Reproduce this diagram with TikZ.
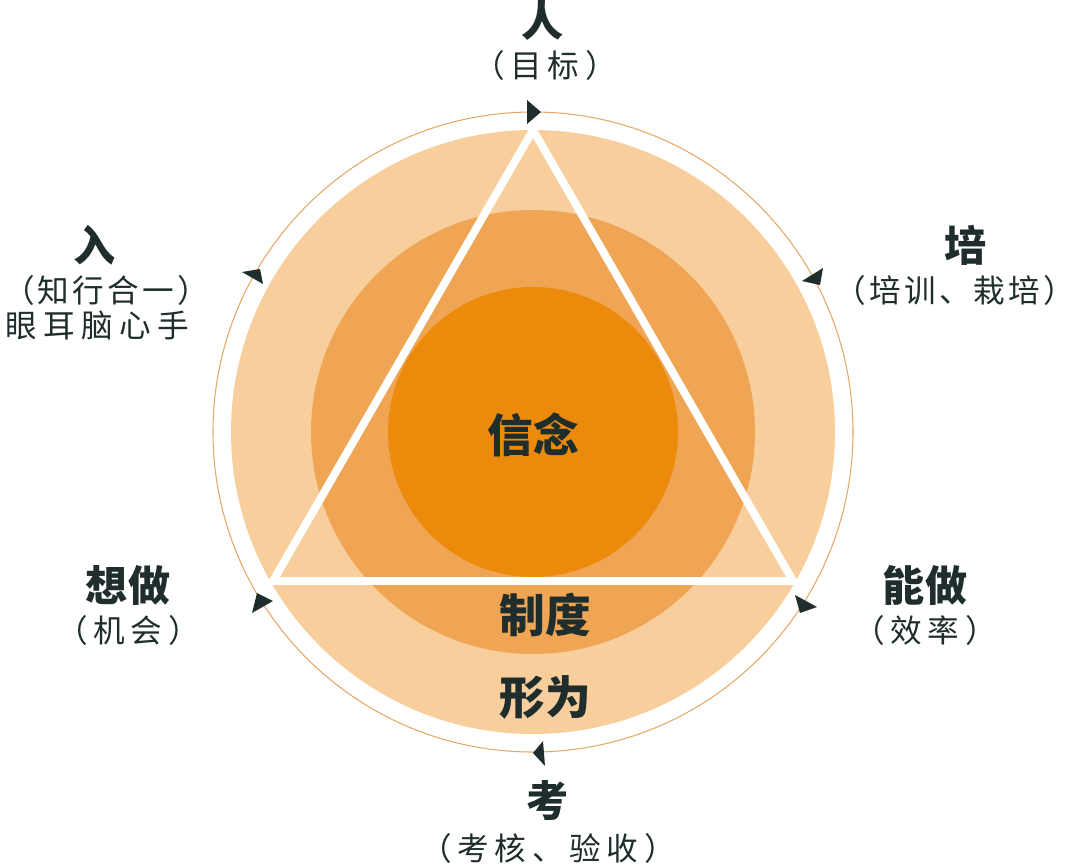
\documentclass[tikz,border=0pt]{standalone}
\usepackage{fontspec}
\newfontfamily\cjk{Noto Sans CJK SC}
\newfontfamily\cjkwide{Noto Sans CJK SC}[LetterSpace=18]
\newfontfamily\cjkmid{Noto Sans CJK SC}[LetterSpace=10]
\usetikzlibrary{calc}
\definecolor{peach}{HTML}{F7CE9C}
\definecolor{amber}{HTML}{F0A555}
\definecolor{core}{HTML}{EC8A0C}
\definecolor{ring}{HTML}{E6A866}
\definecolor{ink}{HTML}{1F2E2D}
\tikzset{
  head/.style={text=ink, font=\cjk\bfseries\fontsize{24}{26}\selectfont, inner sep=0pt},
  big/.style={text=ink, font=\cjk\bfseries\fontsize{26}{28}\selectfont, inner sep=0pt},
  sub/.style={text=ink, font=\cjkwide\fontsize{18}{20}\selectfont, inner sep=0pt},
  subedge/.style={sub, font=\cjkmid\fontsize{18}{20}\selectfont},
  tick/.style={fill=ink}
}

\begin{document}
\begin{tikzpicture}[x=0.02cm, y=-0.02cm]
    \useasboundingbox (0,0) rectangle (1080,866);
    \coordinate (O) at (533,432);
    \draw[ring, line width=0.6pt] (O) circle (320);
    \fill[peach] (O) circle (302);
    \fill[amber] (O) circle (222);
    \fill[core] (O) circle (145);

    \coordinate (A) at (533,130); \coordinate (B) at (273,581); \coordinate (C) at (793,581);
    \draw[white, line width=4.5pt, line join=miter] (A) -- (B) -- (C) -- cycle;

    % little arrow heads on the outer ring
    \foreach \ax/\ay/\bx/\by/\cx/\cy in {527/100/541/112/527/124, 802/281/823/268/820/285,
                                         242/272/260/269/263/284, 273/601/257/593/252/613,
                                         817/607/795/595/800/613, 533/753/543/741/545/766} {
        \fill[tick] (\ax,\ay) -- (\bx,\by) -- (\cx,\cy) -- cycle;
    }

    \node[big] (xin) at (533,435) {信念};
    \node[big] (zhi) at (545,615) {制度};
    \node[big] (xing) at (545,697) {形为};

    \foreach \n/\x/\y/\t in {ren/543/20/人, pei/966/245/培, ru/95/245/入,
                             xiang/128/585/想做, neng/925/585/能做, kao/548/800/考} {
        \node[head] (\n) at (\x,\y) {\t};
    }
    \foreach \n/\x/\y/\t in {renS/545/65/（目标）, xiangS/128/630/（机会）,
                             nengS/925/630/（效率）, kaoS/548/848/（考核、验收）} {
        \node[sub] (\n) at (\x,\y) {\t};
    }
    \node[subedge] (peiS) at (955,290) {（培训、栽培）};
    \node[subedge] (ruS) at (106,290) {（知行合一）};
    \node[sub, font=\cjk\fontsize{18}{20}\selectfont\addfontfeature{LetterSpace=20}] (ruT) at (97,326) {眼耳脑心手};
\end{tikzpicture}
\end{document}
